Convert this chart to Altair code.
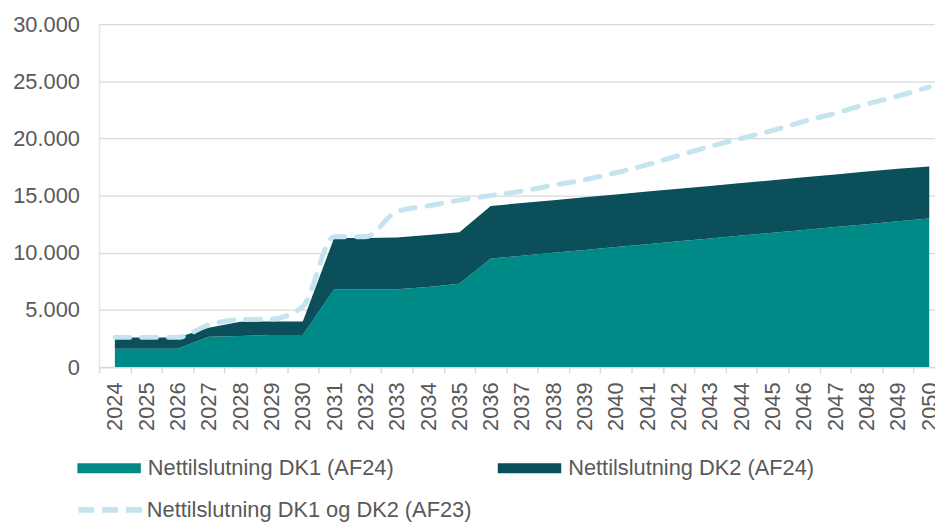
import altair as alt
import pandas as pd

years = list(range(2024, 2051))
dk1 = [1600, 1600, 1600, 2650, 2720, 2800, 2800, 6800, 6800, 6800, 7000, 7300,
       9500, 9750, 10000, 10250, 10500, 10750, 11000, 11250, 11500, 11750, 12000,
       12250, 12500, 12750, 13000]
dk2 = [1000, 1000, 1000, 800, 1250, 1200, 1200, 4500, 4500, 4530, 4550, 4500,
       4600, 4600, 4600, 4600, 4600, 4600, 4600, 4600, 4600, 4600, 4600, 4600,
       4600, 4600, 4550]
af23 = [2600, 2600, 2600, 3700, 4150, 4200, 5300, 11400, 11400, 13600, 14100,
        14600, 15000, 15400, 15900, 16400, 17000, 17700, 18500, 19300, 20000,
        20700, 21500, 22200, 23000, 23700, 24500]

s1 = "Nettilslutning DK1 (AF24)"
s2 = "Nettilslutning DK2 (AF24)"
s3 = "Nettilslutning DK1 og DK2 (AF23)"
y_ticks = [0, 5000, 10000, 15000, 20000, 25000, 30000]

c1 = "#008a87"
c2 = "#0b4f5a"
c3 = "#c4e4f0"
txt = "#595959"
grid = "#d9d9d9"
FONT = "Liberation Sans"

area_df = pd.DataFrame(
    [{"year": str(y), "series": s1, "value": v, "ord": 1} for y, v in zip(years, dk1)]
    + [{"year": str(y), "series": s2, "value": v, "ord": 2} for y, v in zip(years, dk2)]
)
line_df = pd.DataFrame({"year": [str(y) for y in years], "value": af23, "lser": s3})

xscale = alt.Scale(domain=[str(y) for y in years], range=[0, 853],
                   paddingInner=0, paddingOuter=0)
xaxis = alt.Axis(title=None, labelAngle=270, labelAlign="right", labelBaseline="middle",
                 labelFontSize=22, labelColor=txt, labelFont=FONT, labelPadding=9,
                 tickBand="extent", tickSize=6, tickColor=grid, tickWidth=1.5,
                 domainColor=grid, domainWidth=1.5, grid=False)
yscale = alt.Scale(domain=[0, 30000], nice=False)
yaxis = alt.Axis(title=None, values=y_ticks, grid=True, gridColor=grid, gridWidth=1.3,
                 domain=False, ticks=False, labelPadding=20, labelFontSize=22,
                 labelColor=txt, labelFont=FONT,
                 labelExpr="replace(format(datum.value, ','), /,/g, '.')")

area = alt.Chart(area_df).mark_area(interpolate="linear").encode(
    x=alt.X("year:O", scale=xscale, axis=xaxis, sort=None),
    y=alt.Y("value:Q", stack="zero", scale=yscale, axis=yaxis),
    order=alt.Order("ord:Q", sort="ascending"),
    fill=alt.Fill("series:N", scale=alt.Scale(domain=[s1, s2], range=[c1, c2]),
                  legend=alt.Legend(title=None, orient="none", legendX=-22, legendY=416,
                                    direction="horizontal", columns=2, columnPadding=104,
                                    symbolType="M-1,-0.16H1V0.16H-1Z", symbolSize=4096,
                                    symbolStrokeWidth=0, labelOffset=7,
                                    labelFontSize=22, labelColor=txt, labelFont=FONT,
                                    labelLimit=500, padding=0)),
)

line = alt.Chart(line_df).mark_line(strokeWidth=5, strokeDash=[15, 12], strokeCap="round",
                                    interpolate="monotone").encode(
    x=alt.X("year:O", scale=xscale, axis=xaxis, sort=None),
    y=alt.Y("value:Q", scale=yscale, axis=yaxis),
    stroke=alt.Stroke("lser:N", scale=alt.Scale(domain=[s3], range=[c3]),
                      legend=alt.Legend(title=None, orient="none", legendX=-24, legendY=455,
                                        symbolType="stroke", symbolSize=4096,
                                        symbolStrokeWidth=6, symbolDash=[16, 8],
                                        labelOffset=2, labelFontSize=22, labelColor=txt,
                                        labelFont=FONT, labelLimit=500, padding=0)),
)

chart = alt.layer(area, line).resolve_scale(
    stroke="independent", fill="independent"
).properties(
    width=843, height=346,
    autosize=alt.AutoSizeParams(type="none"),
    padding={"left": 92, "top": 14, "right": 0, "bottom": 154},
).configure_view(stroke=None).configure(background="white")

chart.save("out.html", embed_options={"renderer": "svg", "actions": False})
